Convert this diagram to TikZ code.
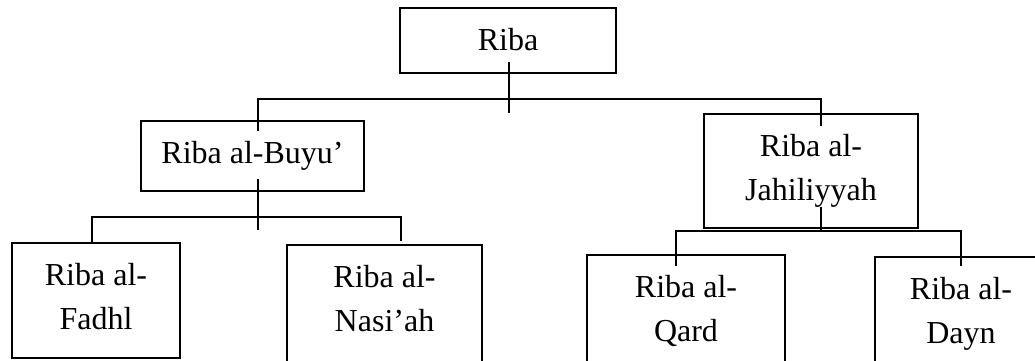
\documentclass[tikz,border=0pt]{standalone}
\usepackage{fontspec}
\setmainfont{Liberation Serif}
\newcommand{\bxt}[3]{\parbox[c][#2][t]{#1}{\centering\rule{0pt}{42pt}#3}}
\begin{document}
\begin{tikzpicture}[x=1pt,y=-1pt,
  box/.style={draw=black, line width=1.7pt, inner sep=0pt, font=\fontsize{32}{44}\selectfont},
  conn/.style={draw=black, line width=1.7pt}]
\useasboundingbox (0,0) rectangle (1035,360);
\fill[white] (0,0) rectangle (1035,360);
\clip (0,0) rectangle (1035,360);
% boxes
\node[box] (riba)   at (508,40.5)  {\bxt{216pt}{65pt}{Riba}};
\node[box] (buyu)   at (252.5,156) {\bxt{223pt}{70pt}{Riba al-Buyu’}};
\node[box] (jahil)  at (811,171)   {\bxt{214pt}{114pt}{Riba al-\\Jahiliyyah}};
\node[box] (fadhl)  at (96,300.5)  {\bxt{168pt}{115pt}{Riba al-\\Fadhl}};
\node[box] (nasiah) at (384.5,310) {\bxt{195pt}{130pt}{Riba al-\\Nasi’ah}};
\node[box] (qard)   at (686,315)   {\bxt{198pt}{120pt}{Riba al-\\Qard}};
\node[box] (dayn)   at (961,316)   {\bxt{172pt}{118pt}{Riba al-\\Dayn}};
% bus levels
\coordinate (hb1) at (0,99);
\coordinate (hb2) at (0,217);
\coordinate (hb3) at (0,231);
% entry points
\coordinate (b-in) at ([xshift=5.5pt,yshift=-11pt]buyu.north);
\coordinate (j-in) at ([xshift=10pt,yshift=-13pt]jahil.north);
\coordinate (f-in) at ([xshift=-4pt,yshift=-2pt]fadhl.north);
\coordinate (n-in) at ([xshift=16.5pt,yshift=3pt]nasiah.north);
\coordinate (q-in) at ([xshift=-10pt,yshift=-12pt]qard.north);
\coordinate (d-in) at ([yshift=-10pt]dayn.north);
% top level
\draw[conn] ([xshift=1pt,yshift=12pt]riba.south) -- ([xshift=1pt,yshift=-39pt]riba.south);
\draw[conn] (b-in) |- (hb1 -| j-in) -- (j-in);
% Buyu subtree
\draw[conn] ([xshift=5.5pt,yshift=13pt]buyu.south) -- ([xshift=5.5pt,yshift=-38pt]buyu.south);
\draw[conn] (f-in) |- (hb2 -| n-in) -- (n-in);
% Jahiliyyah subtree
\draw[conn] ([xshift=10pt,yshift=22pt]jahil.south) -- ([xshift=10pt,yshift=-3pt]jahil.south);
\draw[conn] (q-in) |- (hb3 -| d-in) -- (d-in);
\end{tikzpicture}
\end{document}
